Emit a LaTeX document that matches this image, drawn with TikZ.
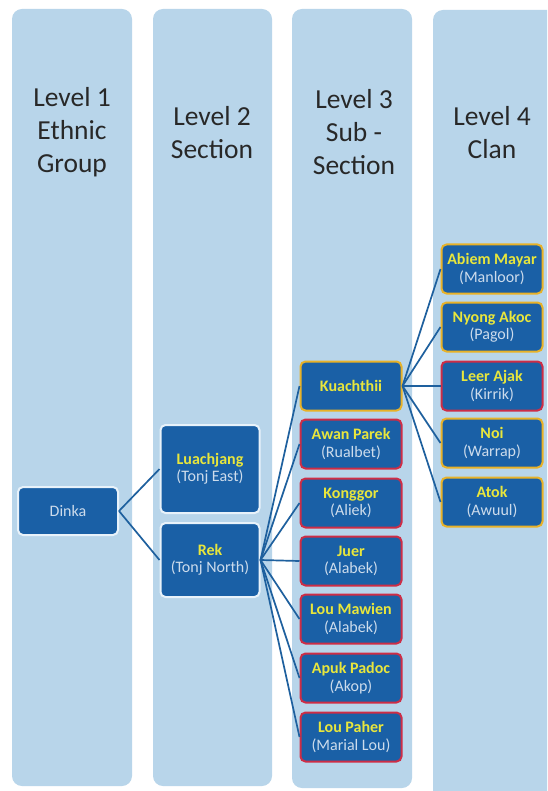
\documentclass[tikz,border=0pt]{standalone}
\usepackage{fontspec}
\setmainfont{Carlito}
\definecolor{colbg}{RGB}{184,213,234}
\definecolor{boxblue}{RGB}{26,96,166}
\definecolor{namecol}{RGB}{232,230,60}
\definecolor{subcol}{RGB}{205,220,236}
\definecolor{goldline}{RGB}{232,178,40}
\definecolor{redline}{RGB}{205,45,70}
\definecolor{paleline}{RGB}{232,242,250}
\definecolor{linkcol}{RGB}{30,96,158}
\definecolor{headcol}{RGB}{40,40,40}
\newcommand{\unittext}[2]{\textbf{\color{namecol}#1}\\{\color{subcol}#2}}

\begin{document}
\begin{tikzpicture}[x=1pt,y=-1pt,
    column/.style={fill=colbg,rounded corners=10pt},
    heading/.style={font=\fontsize{27.5}{33}\selectfont,text=headcol,align=center},
    unit/.style={draw=#1,fill=boxblue,line width=2pt,rounded corners=5pt,
        minimum width=101pt,minimum height=49pt,inner sep=0pt,align=center,
        font=\fontsize{16}{17.5}\selectfont},
    link/.style={draw=linkcol,line width=1.7pt}]
    \path[use as bounding box,clip] (0,0) rectangle (547,791);
    \fill[white] (0,0) rectangle (547,791);
    \fill[column] (12,9) rectangle (132,786);
    \fill[column] (153,9) rectangle (272,786);
    \fill[column] (292,9) rectangle (412,788);
    \fill[column] (433,10) rectangle (565,805);
    \node[heading] (head1) at (72,132) {Level 1\\Ethnic\\Group};
    \node[heading] (head2) at (212,133) {Level 2\\Section};
    \node[heading] (head3) at (354,132) {Level 3\\Sub -\\Section};
    \node[heading] (head4) at (492,133) {Level 4\\Clan};
    \node[unit=paleline,minimum width=100pt,minimum height=48pt] (dinka) at (68,511) {\color{subcol}Dinka};
    \node[unit=paleline,minimum width=99pt,minimum height=88pt] (luach) at (210,469) {\unittext{Luachjang}{(Tonj East)}};
    \node[unit=paleline,minimum width=99pt,minimum height=74pt] (rek) at (210,560) {\unittext{Rek}{(Tonj North)}};
    \node[unit=goldline] (kuach) at (351,386) {\textbf{\color{namecol}Kuachthii}};
    \node[unit=redline] (awan) at (351,444) {\unittext{Awan Parek}{(Rualbet)}};
    \node[unit=redline] (kong) at (351,503) {\unittext{Konggor}{(Aliek)}};
    \node[unit=redline] (juer) at (351,561) {\unittext{Juer}{(Alabek)}};
    \node[unit=redline] (mawien) at (351,619) {\unittext{Lou Mawien}{(Alabek)}};
    \node[unit=redline] (apuk) at (351,678) {\unittext{Apuk Padoc}{(Akop)}};
    \node[unit=redline] (paher) at (351,737) {\unittext{Lou Paher}{(Marial Lou)}};
    \node[unit=goldline] (abiem) at (492,269) {\unittext{Abiem Mayar}{(Manloor)}};
    \node[unit=goldline] (nyong) at (492,327) {\unittext{Nyong Akoc}{(Pagol)}};
    \node[unit=redline] (leer) at (492,386) {\unittext{Leer Ajak}{(Kirrik)}};
    \node[unit=goldline] (noi) at (492,443) {\unittext{Noi}{(Warrap)}};
    \node[unit=goldline] (atok) at (492,502) {\unittext{Atok}{(Awuul)}};
    \draw[link] (dinka.east) -- (luach.west);
    \draw[link] (dinka.east) -- (rek.west);
    \foreach \sub in {kuach,awan,kong,juer,mawien,apuk,paher}
        \draw[link] (rek.east) -- (\sub.west);
    \foreach \clan in {abiem,nyong,leer,noi,atok}
        \draw[link] (kuach.east) -- (\clan.west);
\end{tikzpicture}
\end{document}
